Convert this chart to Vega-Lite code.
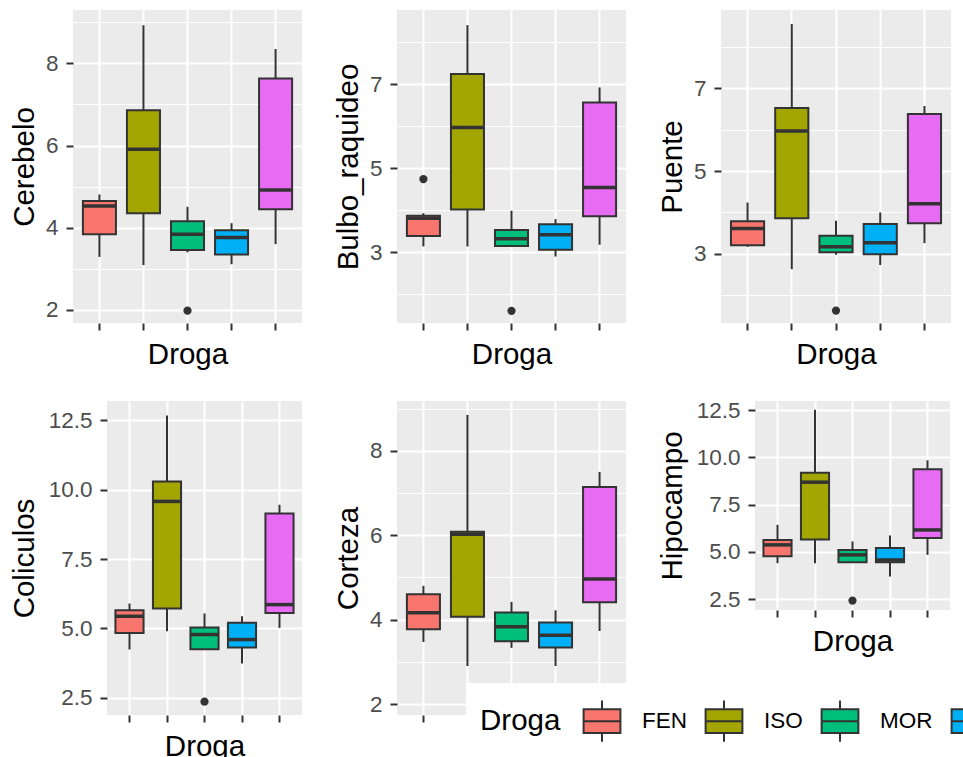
{
"$schema": "https://vega.github.io/schema/vega-lite/v6.json",
"background": "#FFFFFF",
"padding": {"left": 8, "top": 10, "right": 0, "bottom": 0},
"spacing": 28,
"config": {
  "font": "Liberation Sans",
  "view": {"fill": "#EBEBEB", "stroke": null},
  "axis": {"domain": false, "tickColor": "#333333", "tickWidth": 2, "tickSize": 7, "gridColor": "#FFFFFF", "gridWidth": 2, "gridOpacity": 1, "labelColor": "#4D4D4D", "labelFontSize": 22.5, "labelPadding": 8, "labelFont": "Liberation Sans", "titleFont": "Liberation Sans", "titleFontSize": 29.5, "titleFontWeight": "normal", "titleColor": "#000000"}
},
"datasets": {
  "boxes": [
    {"region":"Cerebelo","Droga":"FEN","lower":3.29,"q1":3.84,"median":4.53,"q3":4.65,"upper":4.81},
    {"region":"Cerebelo","Droga":"ISO","lower":3.09,"q1":4.35,"median":5.91,"q3":6.86,"upper":8.93},
    {"region":"Cerebelo","Droga":"MOR","lower":3.40,"q1":3.46,"median":3.84,"q3":4.16,"upper":4.51},
    {"region":"Cerebelo","Droga":"PEN","lower":3.11,"q1":3.35,"median":3.76,"q3":3.94,"upper":4.11},
    {"region":"Cerebelo","Droga":"SAL","lower":3.60,"q1":4.45,"median":4.92,"q3":7.63,"upper":8.35},
    {"region":"Bulbo_raquideo","Droga":"FEN","lower":3.14,"q1":3.39,"median":3.81,"q3":3.87,"upper":3.93},
    {"region":"Bulbo_raquideo","Droga":"ISO","lower":3.14,"q1":4.02,"median":5.97,"q3":7.24,"upper":8.40},
    {"region":"Bulbo_raquideo","Droga":"MOR","lower":3.14,"q1":3.15,"median":3.32,"q3":3.53,"upper":3.99},
    {"region":"Bulbo_raquideo","Droga":"PEN","lower":2.90,"q1":3.06,"median":3.42,"q3":3.67,"upper":3.79},
    {"region":"Bulbo_raquideo","Droga":"SAL","lower":3.18,"q1":3.86,"median":4.54,"q3":6.56,"upper":6.92},
    {"region":"Puente","Droga":"FEN","lower":3.17,"q1":3.21,"median":3.61,"q3":3.79,"upper":4.24},
    {"region":"Puente","Droga":"ISO","lower":2.63,"q1":3.86,"median":5.97,"q3":6.52,"upper":8.55},
    {"region":"Puente","Droga":"MOR","lower":2.98,"q1":3.04,"median":3.17,"q3":3.44,"upper":3.80},
    {"region":"Puente","Droga":"PEN","lower":2.73,"q1":2.99,"median":3.27,"q3":3.72,"upper":4.00},
    {"region":"Puente","Droga":"SAL","lower":3.26,"q1":3.74,"median":4.21,"q3":6.38,"upper":6.57},
    {"region":"Coliculos","Droga":"FEN","lower":4.24,"q1":4.84,"median":5.44,"q3":5.66,"upper":5.90},
    {"region":"Coliculos","Droga":"ISO","lower":4.90,"q1":5.72,"median":9.58,"q3":10.30,"upper":12.68},
    {"region":"Coliculos","Droga":"MOR","lower":4.25,"q1":4.25,"median":4.78,"q3":5.03,"upper":5.54},
    {"region":"Coliculos","Droga":"PEN","lower":3.74,"q1":4.31,"median":4.60,"q3":5.21,"upper":5.44},
    {"region":"Coliculos","Droga":"SAL","lower":5.02,"q1":5.56,"median":5.86,"q3":9.14,"upper":9.46},
    {"region":"Corteza","Droga":"FEN","lower":3.47,"q1":3.77,"median":4.16,"q3":4.60,"upper":4.80},
    {"region":"Corteza","Droga":"ISO","lower":2.90,"q1":4.07,"median":6.02,"q3":6.08,"upper":8.85},
    {"region":"Corteza","Droga":"MOR","lower":3.33,"q1":3.49,"median":3.83,"q3":4.17,"upper":4.42},
    {"region":"Corteza","Droga":"PEN","lower":2.90,"q1":3.34,"median":3.63,"q3":3.93,"upper":4.22},
    {"region":"Corteza","Droga":"SAL","lower":3.73,"q1":4.41,"median":4.96,"q3":7.14,"upper":7.50},
    {"region":"Hipocampo","Droga":"FEN","lower":4.40,"q1":4.77,"median":5.37,"q3":5.63,"upper":6.43},
    {"region":"Hipocampo","Droga":"ISO","lower":4.40,"q1":5.65,"median":8.69,"q3":9.19,"upper":12.53},
    {"region":"Hipocampo","Droga":"MOR","lower":4.45,"q1":4.45,"median":4.84,"q3":5.10,"upper":5.55},
    {"region":"Hipocampo","Droga":"PEN","lower":3.69,"q1":4.45,"median":4.57,"q3":5.21,"upper":5.87},
    {"region":"Hipocampo","Droga":"SAL","lower":4.84,"q1":5.74,"median":6.16,"q3":9.37,"upper":9.85}
  ],
  "outliers": [
    {"region":"Cerebelo","Droga":"MOR","value":1.98},
    {"region":"Bulbo_raquideo","Droga":"FEN","value":4.74},
    {"region":"Bulbo_raquideo","Droga":"MOR","value":1.61},
    {"region":"Puente","Droga":"MOR","value":1.63},
    {"region":"Coliculos","Droga":"MOR","value":2.36},
    {"region":"Hipocampo","Droga":"MOR","value":2.42}
  ],
  "blank": [{}]
},
"vconcat": [
 {"spacing": 0, "hconcat": [
  {"width": 1, "height": 1, "view": {"fill": null, "stroke": null}, "data": {"name": "blank"}, "mark": {"type": "point", "size": 0, "opacity": 0}},
  {"spacing": 31, "hconcat": [
  {
    "width": 229, "height": 313,
    "encoding": {"x": {"field":"Droga","type":"nominal","sort":["FEN","ISO","MOR","PEN","SAL"],"scale":{"paddingInner":0,"paddingOuter":0.1},"title":"Droga","axis":{"labels":false,"bandPosition":0.5,"grid":true,"minExtent":7,"maxExtent":7,"titlePadding":10.4}}},
    "layer": [
      {"data":{"name":"boxes"},"transform":[{"filter":"datum.region === 'Cerebelo'"}],"mark":{"type":"rule","color":"#333333","strokeWidth":2},
       "encoding":{"y":{"field":"lower","type":"quantitative","title":"Cerebelo","scale":{"domain":[1.68,9.3],"nice":false,"zero":false},
         "axis":{"values":[2,3,4,5,6,7,8,9],"format":".0f","labelOverlap":false,"labelExpr":"datum.value % 2 === 0 ? datum.label : ''","gridWidth":{"condition":{"test":"datum.value % 2 === 0","value":2},"value":1},"tickOpacity":{"condition":{"test":"datum.value % 2 === 0","value":1},"value":0},"minExtent":28,"maxExtent":28,"titlePadding":6}},
         "y2":{"field":"upper"}}},
      {"data":{"name":"boxes"},"transform":[{"filter":"datum.region === 'Cerebelo'"}],"mark":{"type":"bar","width":{"band":0.75},"stroke":"#333333","strokeWidth":2},
       "encoding":{"y":{"field":"q1","type":"quantitative","title":"Cerebelo","scale":{"domain":[1.68,9.3],"nice":false,"zero":false}},"y2":{"field":"q3"},
         "color":{"field":"Droga","type":"nominal","scale":{"domain":["FEN","ISO","MOR","PEN","SAL"],"range":["#F8766D","#A3A500","#00BF7D","#00B0F6","#E76BF3"]},
           "legend":{"orient":"none","legendX":458,"legendY":673,"direction":"horizontal","titleOrient":"left","titleFontSize":29.5,"titleFontWeight":"normal","titleColor":"#000000","titleFont":"Liberation Sans","titlePadding":17,"labelFontSize":22.5,"labelColor":"#000000","labelFont":"Liberation Sans","labelOffset":16,"columnPadding":13,"padding":14,"fillColor":"#FFFFFF","symbolType":"M-0.8,-0.52H0.8V0.52H-0.8ZM-0.8,0H0.8M0,-0.52V-0.9M0,0.52V0.9","symbolSize":2116,"symbolStrokeColor":"#333333","symbolStrokeWidth":2,"symbolOpacity":1,"encode":{"title":{"update":{"angle":{"value":0}}}}}}}},
      {"data":{"name":"boxes"},"transform":[{"filter":"datum.region === 'Cerebelo'"}],"mark":{"type":"tick","size":33,"thickness":3.5,"color":"#333333","opacity":1},
       "encoding":{"y":{"field":"median","type":"quantitative","title":"Cerebelo","scale":{"domain":[1.68,9.3],"nice":false,"zero":false}}}},
      {"data":{"name":"outliers"},"transform":[{"filter":"datum.region === 'Cerebelo'"}],"mark":{"type":"circle","size":68,"color":"#333333","opacity":1},
       "encoding":{"y":{"field":"value","type":"quantitative","title":"Cerebelo","scale":{"domain":[1.68,9.3],"nice":false,"zero":false}}}}
    ]
  },
  {
    "width": 229, "height": 313,
    "encoding": {"x": {"field":"Droga","type":"nominal","sort":["FEN","ISO","MOR","PEN","SAL"],"scale":{"paddingInner":0,"paddingOuter":0.1},"title":"Droga","axis":{"labels":false,"bandPosition":0.5,"grid":true,"minExtent":7,"maxExtent":7,"titlePadding":10.4}}},
    "layer": [
      {"data":{"name":"boxes"},"transform":[{"filter":"datum.region === 'Bulbo_raquideo'"}],"mark":{"type":"rule","color":"#333333","strokeWidth":2},
       "encoding":{"y":{"field":"lower","type":"quantitative","title":"Bulbo_raquideo","scale":{"domain":[1.32,8.76],"nice":false,"zero":false},
         "axis":{"values":[2,3,4,5,6,7,8],"format":".0f","labelOverlap":false,"labelExpr":"datum.value % 2 === 1 ? datum.label : ''","gridWidth":{"condition":{"test":"datum.value % 2 === 1","value":2},"value":1},"tickOpacity":{"condition":{"test":"datum.value % 2 === 1","value":1},"value":0},"minExtent":28,"maxExtent":28,"titlePadding":6}},
         "y2":{"field":"upper"}}},
      {"data":{"name":"boxes"},"transform":[{"filter":"datum.region === 'Bulbo_raquideo'"}],"mark":{"type":"bar","width":{"band":0.75},"stroke":"#333333","strokeWidth":2},
       "encoding":{"y":{"field":"q1","type":"quantitative","title":"Bulbo_raquideo","scale":{"domain":[1.32,8.76],"nice":false,"zero":false}},"y2":{"field":"q3"},
         "color":{"field":"Droga","type":"nominal"}}},
      {"data":{"name":"boxes"},"transform":[{"filter":"datum.region === 'Bulbo_raquideo'"}],"mark":{"type":"tick","size":33,"thickness":3.5,"color":"#333333","opacity":1},
       "encoding":{"y":{"field":"median","type":"quantitative","title":"Bulbo_raquideo","scale":{"domain":[1.32,8.76],"nice":false,"zero":false}}}},
      {"data":{"name":"outliers"},"transform":[{"filter":"datum.region === 'Bulbo_raquideo'"}],"mark":{"type":"circle","size":68,"color":"#333333","opacity":1},
       "encoding":{"y":{"field":"value","type":"quantitative","title":"Bulbo_raquideo","scale":{"domain":[1.32,8.76],"nice":false,"zero":false}}}}
    ]
  },
  {
    "width": 230, "height": 313,
    "encoding": {"x": {"field":"Droga","type":"nominal","sort":["FEN","ISO","MOR","PEN","SAL"],"scale":{"paddingInner":0,"paddingOuter":0.1},"title":"Droga","axis":{"labels":false,"bandPosition":0.5,"grid":true,"minExtent":7,"maxExtent":7,"titlePadding":10.4}}},
    "layer": [
      {"data":{"name":"boxes"},"transform":[{"filter":"datum.region === 'Puente'"}],"mark":{"type":"rule","color":"#333333","strokeWidth":2},
       "encoding":{"y":{"field":"lower","type":"quantitative","title":"Puente","scale":{"domain":[1.33,8.89],"nice":false,"zero":false},
         "axis":{"values":[2,3,4,5,6,7,8],"format":".0f","labelOverlap":false,"labelExpr":"datum.value % 2 === 1 ? datum.label : ''","gridWidth":{"condition":{"test":"datum.value % 2 === 1","value":2},"value":1},"tickOpacity":{"condition":{"test":"datum.value % 2 === 1","value":1},"value":0},"minExtent":28,"maxExtent":28,"titlePadding":6}},
         "y2":{"field":"upper"}}},
      {"data":{"name":"boxes"},"transform":[{"filter":"datum.region === 'Puente'"}],"mark":{"type":"bar","width":{"band":0.75},"stroke":"#333333","strokeWidth":2},
       "encoding":{"y":{"field":"q1","type":"quantitative","title":"Puente","scale":{"domain":[1.33,8.89],"nice":false,"zero":false}},"y2":{"field":"q3"},
         "color":{"field":"Droga","type":"nominal"}}},
      {"data":{"name":"boxes"},"transform":[{"filter":"datum.region === 'Puente'"}],"mark":{"type":"tick","size":33,"thickness":3.5,"color":"#333333","opacity":1},
       "encoding":{"y":{"field":"median","type":"quantitative","title":"Puente","scale":{"domain":[1.33,8.89],"nice":false,"zero":false}}}},
      {"data":{"name":"outliers"},"transform":[{"filter":"datum.region === 'Puente'"}],"mark":{"type":"circle","size":68,"color":"#333333","opacity":1},
       "encoding":{"y":{"field":"value","type":"quantitative","title":"Puente","scale":{"domain":[1.33,8.89],"nice":false,"zero":false}}}}
    ]
  }
  ]}
 ]},
 {"spacing": 0, "hconcat": [
  {"width": 1, "height": 1, "view": {"fill": null, "stroke": null}, "data": {"name": "blank"}, "mark": {"type": "point", "size": 0, "opacity": 0}},
  {"spacing": 31, "hconcat": [
  {
    "width": 195, "height": 314,
    "encoding": {"x": {"field":"Droga","type":"nominal","sort":["FEN","ISO","MOR","PEN","SAL"],"scale":{"paddingInner":0,"paddingOuter":0.1},"title":"Droga","axis":{"labels":false,"bandPosition":0.5,"grid":true,"minExtent":7,"maxExtent":7,"titlePadding":10.4}}},
    "layer": [
      {"data":{"name":"boxes"},"transform":[{"filter":"datum.region === 'Coliculos'"}],"mark":{"type":"rule","color":"#333333","strokeWidth":2},
       "encoding":{"y":{"field":"lower","type":"quantitative","title":"Coliculos","scale":{"domain":[1.88,13.2],"nice":false,"zero":false},
         "axis":{"values":[2.5,3.75,5,6.25,7.5,8.75,10,11.25,12.5],"format":".1f","labelOverlap":false,"labelExpr":"datum.value % 2.5 === 0 ? datum.label : ''","gridWidth":{"condition":{"test":"datum.value % 2.5 === 0","value":2},"value":1},"tickOpacity":{"condition":{"test":"datum.value % 2.5 === 0","value":1},"value":0},"minExtent":62,"maxExtent":62,"titlePadding":6}},
         "y2":{"field":"upper"}}},
      {"data":{"name":"boxes"},"transform":[{"filter":"datum.region === 'Coliculos'"}],"mark":{"type":"bar","width":{"band":0.75},"stroke":"#333333","strokeWidth":2},
       "encoding":{"y":{"field":"q1","type":"quantitative","title":"Coliculos","scale":{"domain":[1.88,13.2],"nice":false,"zero":false}},"y2":{"field":"q3"},
         "color":{"field":"Droga","type":"nominal"}}},
      {"data":{"name":"boxes"},"transform":[{"filter":"datum.region === 'Coliculos'"}],"mark":{"type":"tick","size":28,"thickness":3.5,"color":"#333333","opacity":1},
       "encoding":{"y":{"field":"median","type":"quantitative","title":"Coliculos","scale":{"domain":[1.88,13.2],"nice":false,"zero":false}}}},
      {"data":{"name":"outliers"},"transform":[{"filter":"datum.region === 'Coliculos'"}],"mark":{"type":"circle","size":68,"color":"#333333","opacity":1},
       "encoding":{"y":{"field":"value","type":"quantitative","title":"Coliculos","scale":{"domain":[1.88,13.2],"nice":false,"zero":false}}}}
    ]
  },
  {
    "width": 229, "height": 314,
    "encoding": {"x": {"field":"Droga","type":"nominal","sort":["FEN","ISO","MOR","PEN","SAL"],"scale":{"paddingInner":0,"paddingOuter":0.1},"title":"Droga","axis":{"labels":false,"bandPosition":0.5,"grid":true,"minExtent":7,"maxExtent":7,"titlePadding":10.4}}},
    "layer": [
      {"data":{"name":"boxes"},"transform":[{"filter":"datum.region === 'Corteza'"}],"mark":{"type":"rule","color":"#333333","strokeWidth":2},
       "encoding":{"y":{"field":"lower","type":"quantitative","title":"Corteza","scale":{"domain":[1.74,9.18],"nice":false,"zero":false},
         "axis":{"values":[2,3,4,5,6,7,8,9],"format":".0f","labelOverlap":false,"labelExpr":"datum.value % 2 === 0 ? datum.label : ''","gridWidth":{"condition":{"test":"datum.value % 2 === 0","value":2},"value":1},"tickOpacity":{"condition":{"test":"datum.value % 2 === 0","value":1},"value":0},"minExtent":28,"maxExtent":28,"titlePadding":6}},
         "y2":{"field":"upper"}}},
      {"data":{"name":"boxes"},"transform":[{"filter":"datum.region === 'Corteza'"}],"mark":{"type":"bar","width":{"band":0.75},"stroke":"#333333","strokeWidth":2},
       "encoding":{"y":{"field":"q1","type":"quantitative","title":"Corteza","scale":{"domain":[1.74,9.18],"nice":false,"zero":false}},"y2":{"field":"q3"},
         "color":{"field":"Droga","type":"nominal"}}},
      {"data":{"name":"boxes"},"transform":[{"filter":"datum.region === 'Corteza'"}],"mark":{"type":"tick","size":33,"thickness":3.5,"color":"#333333","opacity":1},
       "encoding":{"y":{"field":"median","type":"quantitative","title":"Corteza","scale":{"domain":[1.74,9.18],"nice":false,"zero":false}}}}
    ]
  },
  {
    "width": 195, "height": 209,
    "encoding": {"x": {"field":"Droga","type":"nominal","sort":["FEN","ISO","MOR","PEN","SAL"],"scale":{"paddingInner":0,"paddingOuter":0.1},"title":"Droga","axis":{"labels":false,"bandPosition":0.5,"grid":true,"minExtent":7,"maxExtent":7,"titlePadding":10.4}}},
    "layer": [
      {"data":{"name":"boxes"},"transform":[{"filter":"datum.region === 'Hipocampo'"}],"mark":{"type":"rule","color":"#333333","strokeWidth":2},
       "encoding":{"y":{"field":"lower","type":"quantitative","title":"Hipocampo","scale":{"domain":[1.92,12.99],"nice":false,"zero":false},
         "axis":{"values":[2.5,3.75,5,6.25,7.5,8.75,10,11.25,12.5],"format":".1f","labelOverlap":false,"labelExpr":"datum.value % 2.5 === 0 ? datum.label : ''","gridWidth":{"condition":{"test":"datum.value % 2.5 === 0","value":2},"value":1},"tickOpacity":{"condition":{"test":"datum.value % 2.5 === 0","value":1},"value":0},"minExtent":62,"maxExtent":62,"titlePadding":6}},
         "y2":{"field":"upper"}}},
      {"data":{"name":"boxes"},"transform":[{"filter":"datum.region === 'Hipocampo'"}],"mark":{"type":"bar","width":{"band":0.75},"stroke":"#333333","strokeWidth":2},
       "encoding":{"y":{"field":"q1","type":"quantitative","title":"Hipocampo","scale":{"domain":[1.92,12.99],"nice":false,"zero":false}},"y2":{"field":"q3"},
         "color":{"field":"Droga","type":"nominal"}}},
      {"data":{"name":"boxes"},"transform":[{"filter":"datum.region === 'Hipocampo'"}],"mark":{"type":"tick","size":28,"thickness":3.5,"color":"#333333","opacity":1},
       "encoding":{"y":{"field":"median","type":"quantitative","title":"Hipocampo","scale":{"domain":[1.92,12.99],"nice":false,"zero":false}}}},
      {"data":{"name":"outliers"},"transform":[{"filter":"datum.region === 'Hipocampo'"}],"mark":{"type":"circle","size":68,"color":"#333333","opacity":1},
       "encoding":{"y":{"field":"value","type":"quantitative","title":"Hipocampo","scale":{"domain":[1.92,12.99],"nice":false,"zero":false}}}}
    ]
  }
  ]}
 ]}
]
}
